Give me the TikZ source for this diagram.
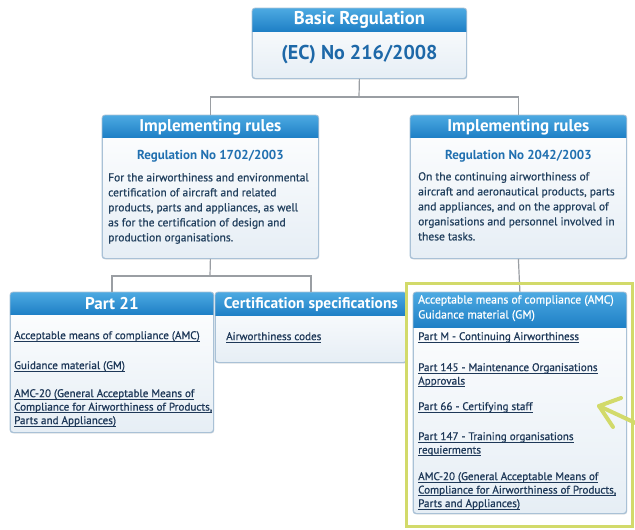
\documentclass[tikz,border=0pt]{standalone}
\usepackage{fontspec}
\setmainfont{PT Sans}
\newfontfamily\medfont[FakeBold=0.8]{PT Sans}
\usetikzlibrary{shadows}

\definecolor{headtop}{HTML}{4DAAE2}
\definecolor{headbot}{HTML}{1F80C6}
\definecolor{boxborder}{HTML}{A9C1D6}
\definecolor{bodybot}{HTML}{E6EEF5}
\definecolor{linkc}{HTML}{1E3858}
\definecolor{descc}{HTML}{22405E}
\definecolor{regc}{HTML}{2170B0}
\definecolor{ecc}{HTML}{1D68A8}
\definecolor{conncol}{HTML}{9A9EA3}
\definecolor{hlcol}{HTML}{D2DA6A}

% underlined link text with a rule at a fixed depth
\newcommand\undl[1]{\setbox0\hbox{#1}\rlap{\rule[-2.4pt]{\wd0}{0.6pt}}\box0}

\tikzset{
  bodybox/.style={draw=boxborder, line width=0.8pt, rounded corners=3pt,
    top color=white, bottom color=bodybot, inner sep=0pt,
    drop shadow={opacity=0.18, shadow xshift=0.8pt, shadow yshift=-1.2pt}},
  boxline/.style={draw=boxborder, line width=0.8pt, rounded corners=3pt},
  hdr/.style={text=white, inner sep=0pt, font=\bfseries\fontsize{17}{19}\selectfont},
  regno/.style={text=regc, inner sep=0pt, font=\bfseries\fontsize{13}{15}\selectfont},
  desc/.style={text=descc, inner sep=0pt, align=left, anchor=north west,
    font=\medfont\fontsize{11.5}{15}\selectfont},
  linktext/.style={text=linkc, inner sep=0pt, align=left, anchor=north west,
    font=\medfont\fontsize{11.1}{13.5}\selectfont},
  conn/.style={draw=conncol, line width=1.2pt},
  highlight/.style={draw=hlcol, line width=3pt},
  pointer/.style={draw=hlcol, line width=4pt, line cap=round, line join=round}
}

% box with a blue heading band: name, x, y, width, height, band height
\newcommand\regbox[6]{%
  \node[bodybox, minimum width=#4pt, minimum height=#5pt, anchor=north west] (#1) at (#2,#3) {};
  \begin{scope}
    \clip[rounded corners=3pt] (#1.north west) rectangle (#1.south east);
    \shade[top color=headtop, bottom color=headbot]
      (#1.north west) rectangle ([yshift=-#6pt]#1.north east);
  \end{scope}
  \draw[boxline] (#1.north west) rectangle (#1.south east);
}

\begin{document}
\begin{tikzpicture}[x=1pt, y=-1pt]
\useasboundingbox[fill=white] (0,0) rectangle (635,530);

% connectors
\coordinate (j1) at (359,97);
\coordinate (j2) at (210,276);

% top level
\regbox{basic}{252}{8}{214}{70}{23}
\node[hdr, font=\bfseries\fontsize{18.5}{20}\selectfont] (basic-h)
  at ([yshift=-12pt]basic.north) {Basic Regulation};
\node[text=ecc, font=\bfseries\fontsize{20}{22}\selectfont, inner sep=0pt]
  (basic-n) at ([yshift=-47pt]basic.north) {(EC) No 216/2008};

% implementing rules
\regbox{irl}{102}{115}{216}{143}{22}
\node[hdr] (irl-h) at ([yshift=-12pt]irl.north) {Implementing rules};
\node[regno] (irl-r) at ([yshift=-41pt]irl.north) {Regulation No 1702/2003};
\node[desc] (irl-d) at (108,173) {For the airworthiness and environmental\\
certification of aircraft and related\\
products, parts and appliances, as well\\
as for the certification of design and\\
production organisations.};

\regbox{irr}{410}{115}{216}{143}{22}
\node[hdr] (irr-h) at ([yshift=-12pt]irr.north) {Implementing rules};
\node[regno] (irr-r) at ([yshift=-41pt]irr.north) {Regulation No 2042/2003};
\node[desc] (irr-d) at (418,172) {On the continuing airworthiness of\\
aircraft and aeronautical products, parts\\
and appliances, and on the approval of\\
organisations and personnel involved in\\
these tasks.};

% third level
\regbox{p21}{10}{292}{203}{140}{22}
\node[hdr] (p21-h) at ([yshift=-12pt]p21.north) {Part 21};
\node[linktext] (p21-a) at (14,331) {\undl{Acceptable means of compliance (AMC)}};
\node[linktext] (p21-b) at (14,361) {\undl{Guidance material (GM)}};
\node[linktext] (p21-c) at (14,389) {\undl{AMC-20 (General Acceptable Means of}\\
\undl{Compliance for Airworthiness of Products,}\\
\undl{Parts and Appliances)}};

\regbox{cs}{215}{292}{191}{70}{23}
\node[hdr, font=\bfseries\fontsize{15.5}{17}\selectfont] (cs-h)
  at ([yshift=-12.5pt]cs.north) {Certification specifications};
\node[linktext] (cs-a) at (226,332) {\undl{Airworthiness codes}};

\regbox{amc}{413}{292}{213}{221}{35}
\node[linktext, text=white, font=\medfont\fontsize{11.7}{15}\selectfont]
  (amc-h) at (418,295) {Acceptable means of compliance (AMC)\\
Guidance material (GM)};
\node[linktext] (amc-a) at (418,332) {\undl{Part M - Continuing Airworthiness}};
\node[linktext] (amc-b) at (418,363) {\undl{Part 145 - Maintenance Organisations}\\
\undl{Approvals}};
\node[linktext] (amc-c) at (418,402) {\undl{Part 66 - Certifying staff}};
\node[linktext] (amc-d) at (418,432) {\undl{Part 147 - Training organisations}\\
\undl{requierments}};
\node[linktext] (amc-e) at (418,472) {\undl{AMC-20 (General Acceptable Means of}\\
\undl{Compliance for Airworthiness of Products,}\\
\undl{Parts and Appliances)}};

% tree lines
\draw[conn] (basic.south) -- (j1);
\draw[conn] (irl.north) |- (j1) -| (irr.north);
\draw[conn] (irl.south) -- (j2);
\draw[conn] (p21.north) |- (j2) -| (cs.north);
\draw[conn] (irr.south) -- (amc.north);

% highlight frame and pointer
\node[highlight, minimum width=226pt, minimum height=243pt, anchor=north west,
  inner sep=0pt] (focus) at (405,282) {};
\coordinate (ptrtip) at (599,406);
\coordinate (ptrtail) at (642,426);
\coordinate (ptrup) at (621,398);
\coordinate (ptrdn) at (613,427);
\draw[pointer] (ptrtail) -- (ptrtip);
\draw[pointer] (ptrup) -- (ptrtip) -- (ptrdn);
\end{tikzpicture}
\end{document}
